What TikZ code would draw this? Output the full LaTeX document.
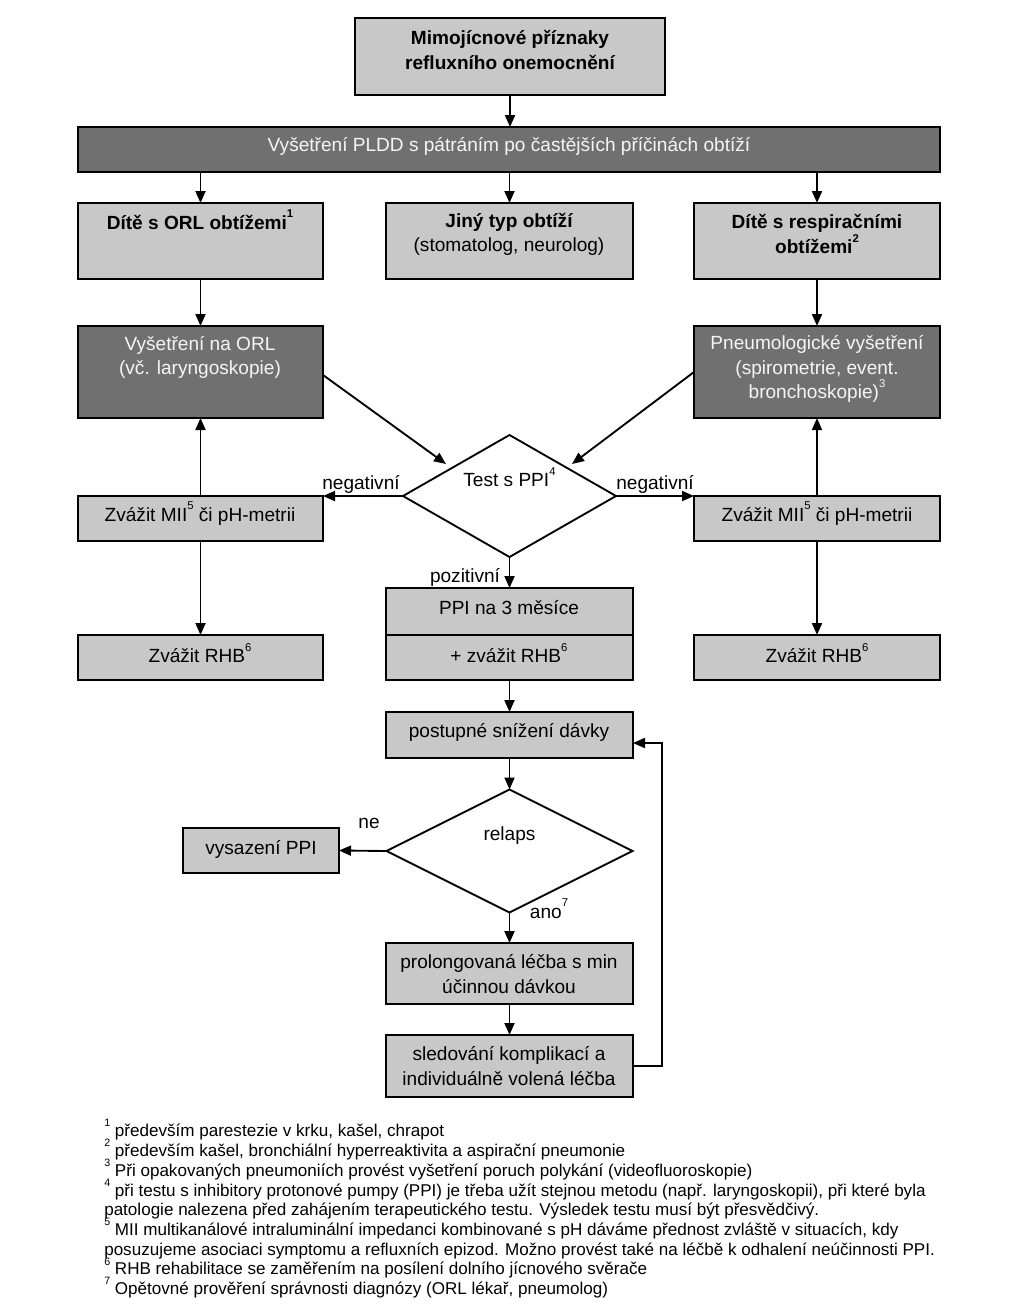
\documentclass[tikz,border=0pt]{standalone}
\usepackage{fontspec}
\setmainfont{Liberation Sans}
\usetikzlibrary{arrows.meta,shapes.geometric}
\definecolor{lightfill}{RGB}{200,200,200}
\definecolor{darkfill}{RGB}{112,112,112}
\definecolor{lighttext}{RGB}{245,245,245}
\newcommand\mybox[6]{%
  \node[#6, minimum width={(#4-#2)*0.75pt}, minimum height={(#5-#3)*0.75pt}] (#1) at ({(#2+#4)/2},{(#3+#5)/2}) {};}
\newcommand\sps[1]{\raisebox{0.58em}[0pt][0pt]{\fontsize{8.5}{9}\selectfont #1}}
\newcommand\fsps[1]{\raisebox{0.58em}[0pt][0pt]{\fontsize{8}{9}\selectfont #1}}
\begin{document}
\begin{tikzpicture}[x=0.75pt,y=-0.75pt,
  box/.style={draw=black,line width=1.4pt,inner sep=0pt,outer sep=0pt,fill=lightfill},
  dbox/.style={box,fill=darkfill},
  dia/.style={diamond,draw=black,line width=1.4pt,inner sep=0pt,outer sep=0pt,fill=white},
  txt/.style={inner sep=0pt,font=\fontsize{14.3}{18.5}\selectfont,align=center},
  btxt/.style={txt,font=\fontsize{14.3}{18.5}\selectfont\bfseries},
  wtxt/.style={txt,text=lighttext},
  lab/.style={inner sep=0pt,font=\fontsize{14.3}{17}\selectfont},
  arr/.style={-{Triangle[length=9pt,width=7.5pt]},line width=1.4pt},
]
\useasboundingbox (0,0) rectangle (1024,1311);
\fill[white] (0,0) rectangle (1024,1311);

% boxes
\mybox{top}{355}{18}{665}{95}{box}
\mybox{bar}{78}{127}{940}{172}{dbox}
\mybox{orl}{78}{203}{323}{279}{box}
\mybox{jiny}{386}{203}{633}{279}{box}
\mybox{resp}{694}{203}{940}{279}{box}
\mybox{vorl}{78}{326}{323}{418}{dbox}
\mybox{pneu}{694}{326}{940}{418}{dbox}
\mybox{miiL}{78}{496}{323}{541}{box}
\mybox{miiR}{694}{496}{940}{541}{box}
\mybox{rhbL}{78}{635}{323}{680}{box}
\mybox{rhbR}{694}{635}{940}{680}{box}
\mybox{ppiA}{386}{588}{633}{635}{box}
\mybox{ppiB}{386}{635}{633}{680}{box}
\mybox{post}{386}{712}{633}{758}{box}
\mybox{vys}{183}{828}{339}{873}{box}
\mybox{prol}{386}{943}{633}{1004}{box}
\mybox{sled}{386}{1035}{633}{1097}{box}

\node[dia, minimum width={213*0.75pt}, minimum height={122*0.75pt}] (test) at (509.5,496) {};
\node[dia, minimum width={246*0.75pt}, minimum height={123*0.75pt}] (relaps) at (509.5,851) {};

% texts
\node[btxt] (ttop) at (510,50) {Mimojícnové příznaky\\refluxního onemocnění};
\node[wtxt] (tbar) at (509,146) {Vyšetření PLDD s pátráním po častějších příčinách obtíží};
\node[btxt] (torl) at (200,222) {Dítě s ORL obtížemi\sps{1}};
\node[btxt] (tjiny1) at (509,222) {Jiný typ obtíží};
\node[txt] (tjiny2) at (509,247) {(stomatolog, neurolog)};
\node[btxt] (tresp) at (817,234) {Dítě s respiračními\\obtížemi\sps{2}};
\node[wtxt] (tvorl) at (200,357.5) {Vyšetření na ORL\\(vč. laryngoskopie)};
\node[wtxt] (tpneu) at (817,369) {Pneumologické vyšetření\\(spirometrie, event.\\bronchoskopie)\sps{3}};
\node[txt] (ttest) at (509.5,480) {Test s PPI\sps{4}};
\node[txt] (tmiiL) at (200,516) {Zvážit MII\sps{5} či pH-metrii};
\node[txt] (tmiiR) at (817,516) {Zvážit MII\sps{5} či pH-metrii};
\node[txt] (trhbL) at (200,656) {Zvážit RHB\sps{6}};
\node[txt] (trhbR) at (817,656) {Zvážit RHB\sps{6}};
\node[txt] (tppiA) at (509,608) {PPI na 3 měsíce};
\node[txt] (tppiB) at (509,656) {+ zvážit RHB\sps{6}};
\node[txt] (tpost) at (509,732) {postupné snížení dávky};
\node[txt] (trel) at (509.5,836) {relaps};
\node[txt] (tvys) at (261,849) {vysazení PPI};
\node[txt] (tprol) at (509,974) {prolongovaná léčba s min\\účinnou dávkou};
\node[txt] (tsled) at (509,1066) {sledování komplikací a\\individuálně volená léčba};

% labels
\node[lab] (negL) at (361,484) {negativní};
\node[lab] (negR) at (655,484) {negativní};
\node[lab] (poz) at (465,577) {pozitivní};
\node[lab] (ne) at (369,823) {ne};
\node[lab] (ano) at (549,913) {ano\sps{7}};

% connectors
\draw[arr] (top.south) -- (top.south |- bar.north);
\draw[arr] (bar.south -| orl.north) -- (orl.north);
\draw[arr] (bar.south -| jiny.north) -- (jiny.north);
\draw[arr] (bar.south -| resp.north) -- (resp.north);
\draw[arr] (orl.south) -- (vorl.north);
\draw[arr] (resp.south) -- (pneu.north);
\coordinate (dl) at (323,375);
\coordinate (dr) at (694,372);
\coordinate (el) at (446,464);
\coordinate (er) at (572,464);
\draw[arr] (dl) -- (el);
\draw[arr] (dr) -- (er);
\draw[arr] (test.west) -- (test.west -| miiL.east);
\draw[arr] (test.east) -- (test.east -| miiR.west);
\draw[arr] (miiL.north) -- (vorl.south);
\draw[arr] (miiR.north) -- (pneu.south);
\draw[arr] (miiL.south) -- (rhbL.north);
\draw[arr] (miiR.south) -- (rhbR.north);
\draw[arr] (test.south) -- (test.south |- ppiA.north);
\draw[arr] (ppiB.south) -- (post.north);
\draw[arr] (post.south) -- (relaps.north);
\draw[arr] (relaps.west) -- (vys.east);
\draw[arr] (relaps.south) -- (relaps.south |- prol.north);
\draw[arr] (prol.south) -- (sled.north);
\coordinate (lb) at (662,1066);
\coordinate (lt) at (662,743);
\draw[arr] (sled.east |- lb) -- (lb) -- (lt) -- (lt -| post.east);

% footnotes
\node[inner sep=0pt,anchor=north west,align=left,font=\fontsize{12.8}{14.8}\selectfont] (foot) at (104,1124) {%
\fsps{1} především parestezie v krku, kašel, chrapot\\
\fsps{2} především kašel, bronchiální hyperreaktivita a aspirační pneumonie\\
\fsps{3} Při opakovaných pneumoniích provést vyšetření poruch polykání (videofluoroskopie)\\
\fsps{4} při testu s inhibitory protonové pumpy (PPI) je třeba užít stejnou metodu (např. laryngoskopii), při které byla\\
patologie nalezena před zahájením terapeutického testu. Výsledek testu musí být přesvědčivý.\\
\fsps{5} MII multikanálové intraluminální impedanci kombinované s pH dáváme přednost zvláště v situacích, kdy\\
posuzujeme asociaci symptomu a refluxních epizod. Možno provést také na léčbě k odhalení neúčinnosti PPI.\\
\fsps{6} RHB rehabilitace se zaměřením na posílení dolního jícnového svěrače\\
\fsps{7} Opětovné prověření správnosti diagnózy (ORL lékař, pneumolog)};
\end{tikzpicture}
\end{document}
